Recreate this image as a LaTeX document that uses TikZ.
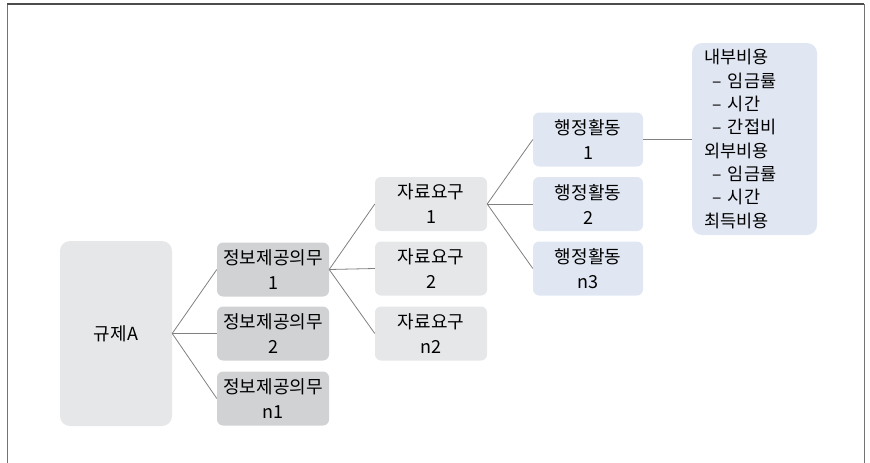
\documentclass[tikz,border=0pt]{standalone}
\usepackage{fontspec}
\setmainfont{Noto Sans CJK KR}
\definecolor{rootgray}{HTML}{E6E7E9}
\definecolor{infogray}{HTML}{D1D2D4}
\definecolor{datagray}{HTML}{E6E7E9}
\definecolor{actblue}{HTML}{E1E7F2}
\begin{document}
\begin{tikzpicture}[x=1pt,y=-1pt,
  conn/.style={draw=black!50,line width=0.8pt},
  base/.style={rounded corners=6pt,inner sep=0pt,minimum width=112pt,minimum height=54pt,align=center,
    font=\fontsize{18}{25}\selectfont},
  rootbox/.style={base,fill=rootgray,minimum height=185pt,rounded corners=10pt},
  infobox/.style={base,fill=infogray},
  databox/.style={base,fill=datagray},
  actbox/.style={base,fill=actblue,minimum width=110pt},
  costbox/.style={rounded corners=10pt,fill=actblue,minimum width=125pt,minimum height=192pt,
    inner xsep=12pt,text width=101pt,align=left,font=\fontsize{17.5}{23.3}\selectfont}
]
\useasboundingbox (0,0) rectangle (870,463);
\draw[black!55,line width=0.8pt] (7,463) -- (7,4) -- (864,4) -- (864,463);
\draw[black!70,line width=1.4pt] (7,4) -- (864,4);

\node[rootbox] (r) at (116,333.5) {규제A};
\node[infobox] (i1) at (273,269.5) {정보제공의무\\1};
\node[infobox] (i2) at (273,333.5) {정보제공의무\\2};
\node[infobox] (i3) at (273,398.5) {정보제공의무\\n1};
\node[databox] (d1) at (431,204) {자료요구\\1};
\node[databox] (d2) at (431,268.5) {자료요구\\2};
\node[databox] (d3) at (431,333.5) {자료요구\\n2};
\node[actbox] (a1) at (588,139.5) {행정활동\\1};
\node[actbox] (a2) at (588,204) {행정활동\\2};
\node[actbox] (a3) at (588,268.5) {행정활동\\n3};
\node[costbox] (c) at (754.5,139) {내부비용\\
\hspace*{0.5em}– 임금률\\
\hspace*{0.5em}– 시간\\
\hspace*{0.5em}– 간접비\\
외부비용\\
\hspace*{0.5em}– 임금률\\
\hspace*{0.5em}– 시간\\
최득비용};

\foreach \t in {i1,i2,i3} \draw[conn] (r.east) -- (\t.west);
\foreach \t in {d1,d2,d3} \draw[conn] (i1.east) -- (\t.west);
\foreach \t in {a1,a2,a3} \draw[conn] (d1.east) -- (\t.west);
\draw[conn] (a1.east) -- (c.west |- a1.east);
\end{tikzpicture}
\end{document}
